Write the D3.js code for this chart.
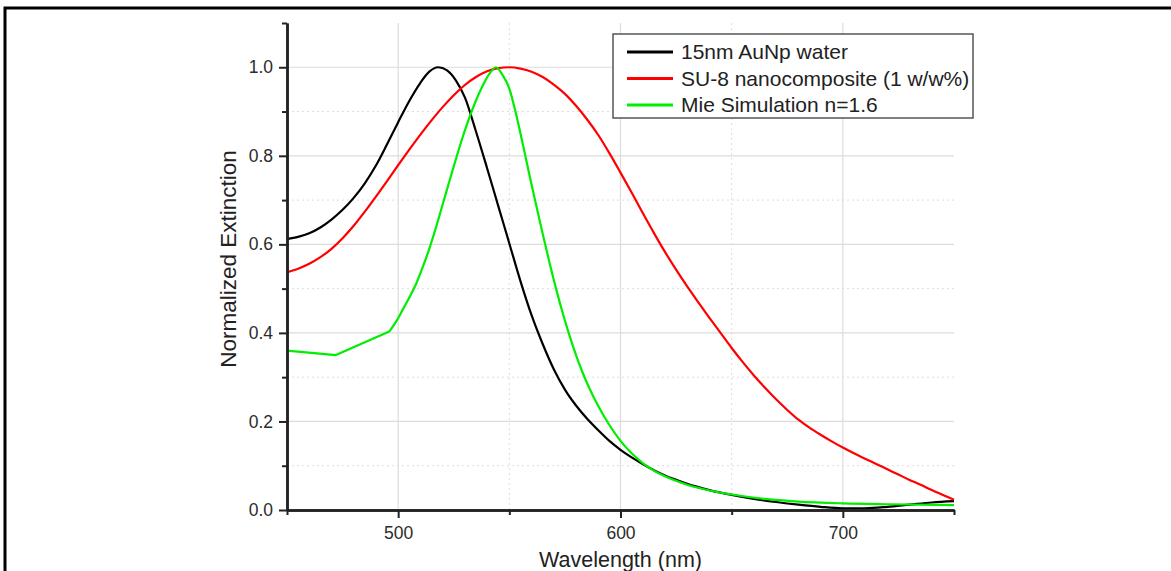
<!DOCTYPE html>
<meta charset="utf-8">
<head>
<script src="https://d3js.org/d3.v7.min.js"></script>
<style type="text/css">
  body { margin: 0; background: #fff; }
  text { font-family: Arial, "Liberation Sans", sans-serif; }
</style>
<title>Normalized Extinction</title>
</head>
<body>
<div id="my_dataviz"></div>
<script>

// 15nm AuNp in water (measured)
var auWl  = [450,455,460,465,470,475,480,485,490,495,500,505,510,514,518,522,526,530,535,540,545,550,555,560,565,570,575,580,585,590,595,600,605,610,615,620,625,630,640,650,660,670,680,690,700,710,720,730,740,750];
var auExt = [.612,.617,.625,.638,.656,.678,.705,.738,.778,.826,.876,.924,.965,.99,1.0,.993,.97,.932,.855,.772,.687,.602,.517,.44,.375,.318,.272,.236,.206,.18,.156,.136,.119,.104,.09,.078,.068,.059,.045,.034,.025,.018,.012,.007,.004,.004,.007,.012,.017,.02];

// SU-8 nanocomposite
var su8Wl  = [450,455,460,465,470,475,480,485,490,495,500,505,510,515,520,525,530,535,540,545,550,555,560,565,570,575,580,585,590,595,600,605,610,615,620,625,630,635,640,645,650,655,660,665,670,675,680,685,690,695,700,705,710,715,720,725,730,735,740,745,750];
var su8Ext = [.537,.545,.556,.571,.59,.614,.642,.674,.708,.743,.779,.814,.848,.88,.91,.937,.96,.978,.991,.998,1.0,.997,.99,.978,.961,.94,.913,.882,.847,.806,.762,.717,.671,.626,.583,.543,.505,.469,.434,.4,.366,.334,.304,.276,.25,.226,.204,.186,.17,.155,.141,.128,.116,.104,.092,.08,.068,.057,.045,.034,.023];

// Mie simulation n=1.6
var mieWl  = [450,472,496,499,502,505,508,511,514,517,520,523,526,529,532,535,538,541,544,547,550,553,556,559,562,565,568,571,574,577,580,583,586,590,595,600,605,610,615,620,630,640,650,665,680,700,720,750];
var mieExt = [.36,.35,.403,.425,.452,.48,.51,.548,.59,.638,.69,.742,.793,.842,.886,.925,.958,.985,1.0,.982,.952,.895,.828,.758,.69,.624,.56,.5,.445,.395,.35,.31,.275,.235,.192,.156,.128,.106,.089,.076,.057,.044,.035,.025,.019,.015,.013,.011];

var xMajor = [500, 600, 700];
var xMinor = [450, 550, 650, 750];
var yMajor = [0, 0.2, 0.4, 0.6, 0.8, 1.0];
var yMinor = [0.1, 0.3, 0.5, 0.7, 0.9, 1.1];

var legendLabels = ["15nm AuNp water", "SU-8 nanocomposite (1 w/w%)", "Mie Simulation n=1.6"];
var colors = ["#000000", "#ff0000", "#00ee00"];

// set the dimensions and margins of the graph
var margin = {top: 23, right: 217, bottom: 61, left: 287},
    width = 1171 - margin.left - margin.right,
    height = 571 - margin.top - margin.bottom;

var root = d3.select("#my_dataviz")
  .append("svg")
    .attr("width", 1171)
    .attr("height", 571);

// outer frame (top and left edges)
root.append("path")
  .attr("d", "M5,571V8H1171")
  .attr("fill", "none")
  .attr("stroke", "#000")
  .attr("stroke-width", 3);

var svg = root.append("g")
  .attr("transform", "translate(" + margin.left + "," + margin.top + ")");

var x = d3.scaleLinear().domain([450, 750]).range([0, width]);
var y = d3.scaleLinear().domain([0, 1.1]).range([height, 0]);

// grid lines
svg.selectAll(".vmaj").data(xMajor).enter().append("line")
  .attr("x1", function(d) { return x(d); }).attr("x2", function(d) { return x(d); })
  .attr("y1", 0).attr("y2", height)
  .attr("stroke", "#dcdcdc").attr("stroke-width", 1.2);
svg.selectAll(".vmin").data([550, 650]).enter().append("line")
  .attr("x1", function(d) { return x(d); }).attr("x2", function(d) { return x(d); })
  .attr("y1", 0).attr("y2", height)
  .attr("stroke", "#dddddd").attr("stroke-dasharray", "2,3");
svg.selectAll(".hmaj").data(yMajor.slice(1)).enter().append("line")
  .attr("x1", 0).attr("x2", width)
  .attr("y1", function(d) { return y(d); }).attr("y2", function(d) { return y(d); })
  .attr("stroke", "#dcdcdc").attr("stroke-width", 1.2);
svg.selectAll(".hmin").data(yMinor.slice(0, 5)).enter().append("line")
  .attr("x1", 0).attr("x2", width)
  .attr("y1", function(d) { return y(d); }).attr("y2", function(d) { return y(d); })
  .attr("stroke", "#dddddd").attr("stroke-dasharray", "2,3");

// the three curves
var line = d3.line()
  .x(function(d) { return x(d[0]); })
  .y(function(d) { return y(d[1]); });

function toPts(wl, ext) {
  return wl.map(function(w, j) { return [w, ext[j]]; });
}

var auPts = toPts(auWl, auExt),
    su8Pts = toPts(su8Wl, su8Ext),
    miePts = toPts(mieWl, mieExt);

var paths = [
  line.curve(d3.curveMonotoneX)(auPts),
  line.curve(d3.curveMonotoneX)(su8Pts),
  // coarse straight part of the simulation, then the smooth peak
  line.curve(d3.curveLinear)(miePts.slice(0, 3)) + line.curve(d3.curveMonotoneX)(miePts.slice(2))
];

paths.forEach(function(d, i) {
  svg.append("path")
    .attr("fill", "none")
    .attr("stroke", colors[i])
    .attr("stroke-width", 2.2)
    .attr("stroke-linejoin", "round")
    .attr("d", d);
});

// axes: minor ticks first, then major with labels
function styleAxis(g) {
  g.select(".domain").attr("stroke", "#222").attr("stroke-width", 2.5);
  g.selectAll(".tick line").attr("stroke", "#222").attr("stroke-width", 2);
  g.selectAll(".tick text").attr("fill", "#2b2b2b").style("font-size", "17.5px");
}

svg.append("g")
  .attr("transform", "translate(0," + height + ")")
  .call(d3.axisBottom(x).tickValues(xMinor).tickSize(5).tickSizeOuter(0).tickFormat(""))
  .call(styleAxis);
svg.append("g")
  .attr("transform", "translate(0," + height + ")")
  .call(d3.axisBottom(x).tickValues(xMajor).tickSize(8).tickSizeOuter(0).tickPadding(9).tickFormat(d3.format("d")))
  .call(styleAxis);

svg.append("g")
  .call(d3.axisLeft(y).tickValues(yMinor).tickSize(5).tickSizeOuter(0).tickFormat(""))
  .call(styleAxis);
svg.append("g")
  .call(d3.axisLeft(y).tickValues(yMajor).tickSize(8).tickSizeOuter(0).tickPadding(6).tickFormat(d3.format(".1f")))
  .call(styleAxis);

// axis titles
svg.append("text")
  .attr("x", x(600))
  .attr("y", height + 57)
  .attr("text-anchor", "middle")
  .attr("fill", "#222")
  .style("font-size", "21.5px")
  .text("Wavelength (nm)");

svg.append("text")
  .attr("transform", "translate(-51,236) rotate(-90)")
  .attr("text-anchor", "middle")
  .attr("fill", "#222")
  .style("font-size", "22.5px")
  .text("Normalized Extinction");

// legend
var legend = svg.append("g").attr("transform", "translate(326,11)");
legend.append("rect")
  .attr("width", 360).attr("height", 84)
  .attr("fill", "#fff")
  .attr("stroke", "#555").attr("stroke-width", 1.5);
legendLabels.forEach(function(label, i) {
  var ly = 18 + i * 26.5;
  legend.append("line")
    .attr("x1", 14).attr("x2", 60)
    .attr("y1", ly).attr("y2", ly)
    .attr("stroke", colors[i]).attr("stroke-width", 3);
  legend.append("text")
    .attr("x", 68).attr("y", ly + 7)
    .attr("fill", "#222")
    .style("font-size", "21px")
    .text(label);
});

</script>
</body>
</html>
